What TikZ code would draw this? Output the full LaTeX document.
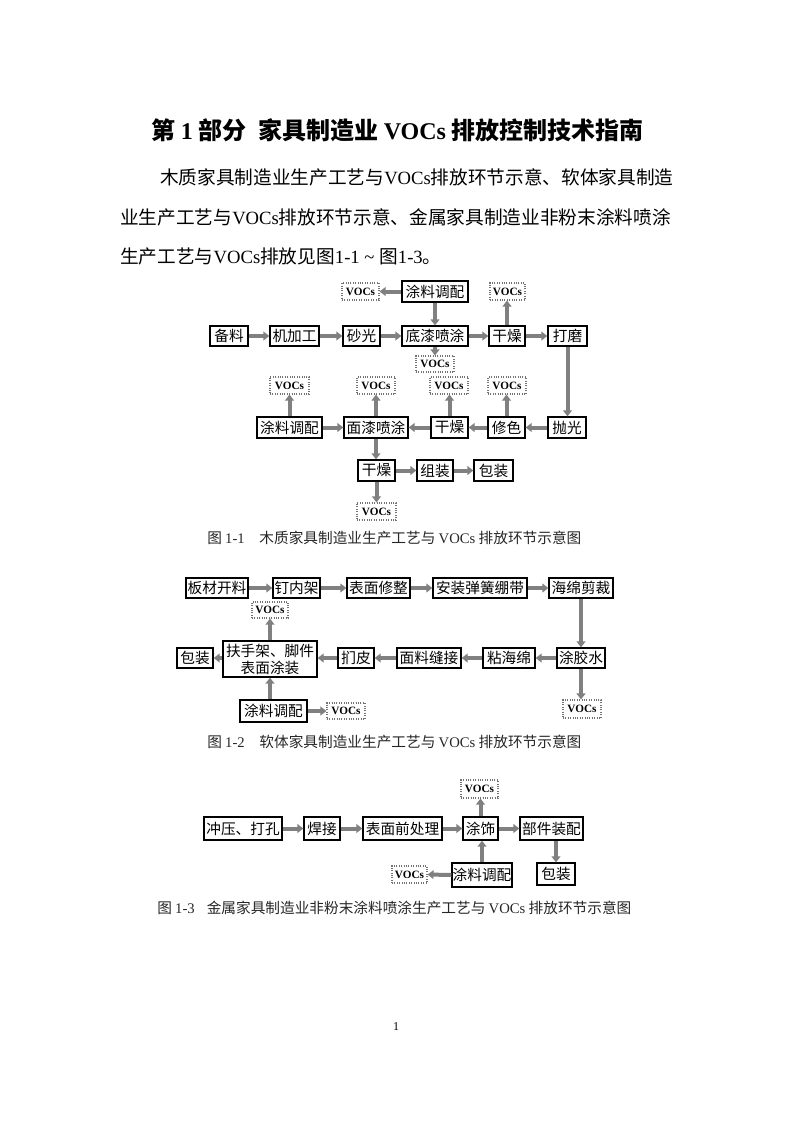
\documentclass[tikz,border=0pt]{standalone}
\usepackage{fontspec}
\setmainfont{Liberation Serif}
\newfontfamily\cjk{Noto Sans CJK SC}
\newfontfamily\lat{Liberation Serif}
\usetikzlibrary{arrows.meta}
\newcommand\V{{\lat VOCs}}
\newcommand\bfV{{\lat\bfseries VOCs}}
% #1 style, #2 name, #3 x1, #4 y1, #5 x2, #6 y2 (pixels), #7 text
\newcommand\bx[7]{\node[#1, minimum width={(#5-#3)*0.75pt}, minimum height={(#6-#4)*0.75pt}] (#2) at ({(#3+#5)/2},{(#4+#6)/2}) {#7};}
\begin{document}
\begin{tikzpicture}[x=0.75pt,y=-0.75pt,
  box/.style={draw=black, line width=0.9pt, inner sep=0pt, align=center,
    font=\cjk\fontsize{11}{12.75}\selectfont},
  voc/.style={draw=black!55, densely dotted, line width=0.8pt, inner sep=0pt,
    font=\lat\bfseries\fontsize{8.4}{10}\selectfont},
  arr/.style={draw=black!50, line width=3pt,
    -{Triangle[length=4.5pt,width=6.5pt]}},
  para/.style={anchor=west, inner sep=0pt, font=\cjk\fontsize{14}{16}\selectfont},
  figcap/.style={anchor=west, inner sep=0pt, text=black!85, font=\cjk\fontsize{11}{13}\selectfont}
]
\path[fill=white] (0,0) rectangle (793,1122);
\useasboundingbox (0,0) rectangle (793,1122);

% title and paragraph
\node[inner sep=0pt, font=\cjk\bfseries\fontsize{18}{20}\selectfont] (title) at (397.5,130)
  {第 {\lat\bfseries 1} 部分\hspace{0.5em}家具制造业 \bfV{} 排放控制技术指南};
\node[para] (p1) at (160,177) {木质家具制造业生产工艺与\V 排放环节示意、软体家具制造};
\node[para] (p2) at (120,217) {业生产工艺与\V 排放环节示意、金属家具制造业非粉末涂料喷涂};
\node[para] (p3) at (120,256) {生产工艺与\V 排放见图{\lat 1-1 \textasciitilde\ }图{\lat 1-3}。};

% ---------- Figure 1-1 ----------
\bx{box}{t1}{402}{281}{468}{302}{涂料调配}
\bx{voc}{tv1}{342}{283}{379}{300}{VOCs}
\bx{voc}{tv2}{490}{283}{525}{300}{VOCs}
\bx{box}{a1}{210}{326}{248}{346}{备料}
\bx{box}{a2}{270}{326}{319}{346}{机加工}
\bx{box}{a3}{343}{326}{380}{346}{砂光}
\bx{box}{a4}{402}{326}{468}{346}{底漆喷涂}
\bx{box}{a5}{489}{326}{525}{346}{干燥}
\bx{box}{a6}{548}{326}{587}{346}{打磨}
\bx{voc}{av}{416}{356}{454}{372}{VOCs}
\bx{voc}{bv1}{270}{377}{309}{394}{VOCs}
\bx{voc}{bv2}{357}{377}{395}{394}{VOCs}
\bx{voc}{bv3}{430}{377}{468}{394}{VOCs}
\bx{voc}{bv4}{488}{377}{526}{394}{VOCs}
\bx{box}{b1}{257}{417}{322}{438}{涂料调配}
\bx{box}{b2}{344}{417}{408}{438}{面漆喷涂}
\bx{box}{b3}{431}{417}{468}{438}{干燥}
\bx{box}{b4}{488}{417}{525}{438}{修色}
\bx{box}{b5}{548}{417}{586}{438}{抛光}
\bx{box}{c1}{358}{460}{395}{481}{干燥}
\bx{box}{c2}{417}{460}{453}{481}{组装}
\bx{box}{c3}{474}{460}{513}{481}{包装}
\bx{voc}{cv}{357}{503}{396}{520}{VOCs}

\draw[arr] (t1.west) -- (tv1.east);
\draw[arr] (t1.south) -- (t1.south |- a4.north);
\draw[arr] (a1.east) -- (a2.west);
\draw[arr] (a2.east) -- (a3.west);
\draw[arr] (a3.east) -- (a4.west);
\draw[arr] (a4.east) -- (a5.west);
\draw[arr] (a5.east) -- (a6.west);
\draw[arr] (a5.north) -- (a5.north |- tv2.south);
\draw[arr] (a4.south) -- (a4.south |- av.north);
\draw[arr] (a6.south) -- (a6.south |- b5.north);
\draw[arr] (b5.west) -- (b4.east);
\draw[arr] (b4.west) -- (b3.east);
\draw[arr] (b3.west) -- (b2.east);
\draw[arr] (b1.east) -- (b2.west);
\draw[arr] (b1.north) -- (b1.north |- bv1.south);
\draw[arr] (b2.north) -- (b2.north |- bv2.south);
\draw[arr] (b3.north) -- (b3.north |- bv3.south);
\draw[arr] (b4.north) -- (b4.north |- bv4.south);
\draw[arr] (b2.south) -- (b2.south |- c1.north);
\draw[arr] (c1.east) -- (c2.west);
\draw[arr] (c2.east) -- (c3.west);
\draw[arr] (c1.south) -- (c1.south |- cv.north);

\node[figcap] (cap1) at (207,538) {图 {\lat 1-1}\hspace{11pt}木质家具制造业生产工艺与 \V{} 排放环节示意图};

% ---------- Figure 1-2 ----------
\bx{box}{d1}{186}{578}{248}{598}{板材开料}
\bx{box}{d2}{273}{578}{320}{598}{钉内架}
\bx{box}{d3}{347}{578}{410}{598}{表面修整}
\bx{box}{d4}{433}{578}{527}{598}{安装弹簧绷带}
\bx{box}{d5}{549}{578}{613}{598}{海绵剪裁}
\bx{voc}{dv}{252}{602}{288}{618}{VOCs}
\bx{box}{e1}{177}{648}{213}{668}{包装}
\bx{box}{e2}{223}{641}{317}{677}{扶手架、脚件\\表面涂装}
\bx{box}{e3}{338}{648}{374}{668}{扪皮}
\bx{box}{e4}{397}{648}{461}{668}{面料缝接}
\bx{box}{e5}{483}{648}{535}{668}{粘海绵}
\bx{box}{e6}{557}{648}{605}{668}{涂胶水}
\bx{voc}{ev}{563}{700}{601}{718}{VOCs}
\bx{box}{f1}{240}{700}{307}{722}{涂料调配}
\bx{voc}{fv}{327}{703}{365}{719}{VOCs}

\draw[arr] (d1.east) -- (d2.west);
\draw[arr] (d2.east) -- (d3.west);
\draw[arr] (d3.east) -- (d4.west);
\draw[arr] (d4.east) -- (d5.west);
\draw[arr] (d5.south -| e6.north) -- (e6.north);
\draw[arr] (e6.south) -- (e6.south |- ev.north);
\draw[arr] (e6.west) -- (e5.east);
\draw[arr] (e5.west) -- (e4.east);
\draw[arr] (e4.west) -- (e3.east);
\draw[arr] (e3.west) -- (e3.west -| e2.east);
\draw[arr] (e2.west |- e1.east) -- (e1.east);
\draw[arr] (e2.north) -- (e2.north |- dv.south);
\draw[arr] (f1.north -| e2.south) -- (e2.south);
\draw[arr] (f1.east) -- (fv.west);

\node[figcap] (cap2) at (207,742) {图 {\lat 1-2}\hspace{11pt}软体家具制造业生产工艺与 \V{} 排放环节示意图};

% ---------- Figure 1-3 ----------
\bx{voc}{gv}{461}{780}{498}{798}{VOCs}
\bx{box}{g1}{204}{817}{282}{840}{冲压、打孔}
\bx{box}{g2}{304}{817}{340}{840}{焊接}
\bx{box}{g3}{363}{817}{442}{840}{表面前处理}
\bx{box}{g4}{463}{817}{498}{840}{涂饰}
\bx{box}{g5}{520}{817}{583}{840}{部件装配}
\bx{voc}{hv}{392}{866}{427}{883}{VOCs}
\bx{box}{h1}{452}{863}{512}{887}{涂料调配}
\bx{box}{h2}{537}{863}{575}{885}{包装}

\draw[arr] (g1.east) -- (g2.west);
\draw[arr] (g2.east) -- (g3.west);
\draw[arr] (g3.east) -- (g4.west);
\draw[arr] (g4.east) -- (g5.west);
\draw[arr] (g4.north) -- (g4.north |- gv.south);
\draw[arr] (h1.north) -- (h1.north |- g4.south);
\draw[arr] (h1.west) -- (hv.east);
\draw[arr] (h2.north |- g5.south) -- (h2.north);

\node[figcap] (cap3) at (157,908) {图 {\lat 1-3}\hspace{9pt}金属家具制造业非粉末涂料喷涂生产工艺与 \V{} 排放环节示意图};

\node[inner sep=0pt, font=\lat\fontsize{9}{10}\selectfont] (pg) at (396,1027) {1};
\end{tikzpicture}
\end{document}
